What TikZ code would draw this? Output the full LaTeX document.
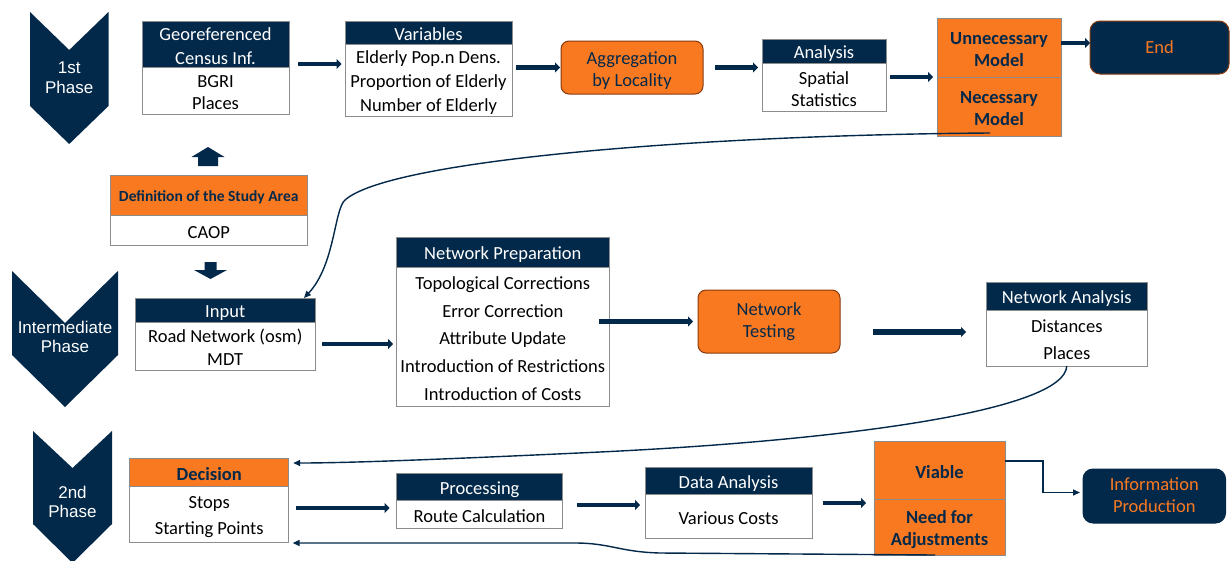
\documentclass[tikz,border=0pt]{standalone}
\usepackage{fontspec}
\setmainfont{Carlito}
\newfontfamily\phasefont{Liberation Sans}
\usetikzlibrary{arrows.meta}
\definecolor{navy}{RGB}{3,41,74}
\definecolor{orng}{RGB}{249,121,33}
\definecolor{brwn}{RGB}{135,58,14}
\definecolor{edge}{RGB}{140,140,140}
% invisible strut that fixes the line boxes of the box texts
\newcommand\lowst{\rule[-0.1em]{0pt}{1.1em}}

\begin{document}
\begin{tikzpicture}[x=1pt,y=-1pt,
  every node/.style={inner sep=0pt, outer sep=0pt},
  part/.style={draw=edge, line width=0.75pt, anchor=north west, align=center,
    font=\fontsize{18.5}{24}\selectfont},
  hdr/.style={part, fill=navy, text=white},
  cell/.style={part, fill=white, text=black},
  ocell/.style={part, fill=orng, text=navy, font=\fontsize{18.5}{22}\selectfont\bfseries},
  rbox/.style={draw=brwn, line width=1pt, rounded corners=8pt, anchor=north west,
    align=center, font=\fontsize{18.5}{22}\selectfont},
  phase/.style={text=white, align=center, font=\phasefont\fontsize{17}{19.5}\selectfont},
  flow/.style={draw=navy, line width=4.5pt, -{Triangle[length=5pt,width=10pt]}},
  link/.style={draw=navy, line width=1.4pt, -{Triangle[length=7pt,width=6pt]}}
]
\fill[white] (0,0) rectangle (1230,560);
\useasboundingbox (0,0) rectangle (1230,560);

% ---------- phase chevrons ----------
\fill[navy] (30,12) -- (69.2,50) -- (108.5,12) -- (108.5,106) -- (69.2,144) -- (30,106) -- cycle;
\node[phase] (ph1) at (69.2,77.5) {1st\\Phase};
\fill[navy] (12,271) -- (65,323) -- (118,271) -- (118,355) -- (65,407) -- (12,355) -- cycle;
\node[phase] (ph2) at (65,337) {Intermediate\\Phase};
\fill[navy] (33,431) -- (72.5,468) -- (112,431) -- (112,524) -- (72.5,563) -- (33,524) -- cycle;
\node[phase] (ph3) at (72.5,502) {2nd\\Phase};

% ---------- first phase ----------
\node[hdr, minimum width=147pt, minimum height=46pt] (geoH) at (142,21) {\lowst Georeferenced\\Census Inf.\lowst};
\node[cell, minimum width=147pt, minimum height=47pt, font=\fontsize{18.5}{22}\selectfont] (geoB) at (142,67) {\lowst BGRI\\Places\lowst};

\node[hdr, minimum width=167pt, minimum height=23pt] (varH) at (345,21) {\lowst Variables};
\node[cell, minimum width=167pt, minimum height=72pt] (varB) at (345,44)
  {\lowst Elderly Pop.n Dens.\\Proportion of Elderly\\Number of Elderly\lowst};

\node[rbox, fill=orng, text=navy, minimum width=142pt, minimum height=53pt] (agg) at (561,41) {\lowst Aggregation\\by Locality\lowst};

\node[hdr, minimum width=124pt, minimum height=24pt] (anaH) at (762,39) {\lowst Analysis};
\node[cell, minimum width=124pt, minimum height=48pt, font=\fontsize{18.5}{22}\selectfont] (anaB) at (762,63) {\lowst Spatial\\Statistics\lowst};

\node[ocell, minimum width=124pt, minimum height=59pt] (modelT) at (937,18) {\lowst Unnecessary\\Model\lowst};
\node[ocell, minimum width=124pt, minimum height=59pt] (modelB) at (937,77) {\lowst Necessary\\Model\lowst};

\node[rbox, fill=navy, text=orng, rounded corners=10pt, minimum width=139pt, minimum height=53pt] (end) at (1090,21) {End};

% study area definition with its block arrows
\fill[navy] (198,166) -- (198,157) -- (191.5,157) -- (208,147) -- (224.5,157) -- (218,157) -- (218,166) -- cycle;
\node[part, fill=orng, text=navy, font=\fontsize{15.5}{18}\selectfont\bfseries,
  minimum width=197.5pt, minimum height=40pt] (defH) at (110,175) {\lowst Definition of the Study Area};
\node[cell, minimum width=197.5pt, minimum height=30pt] (defB) at (110,215) {\lowst CAOP};
\fill[navy] (204.5,262) -- (216.5,262) -- (216.5,270) -- (227,270) -- (210.5,279) -- (194,270) -- (204.5,270) -- cycle;

% ---------- intermediate phase ----------
\node[hdr, minimum width=179.5pt, minimum height=24pt] (inpH) at (135.5,298) {\lowst Input};
\node[cell, minimum width=179.5pt, minimum height=48pt, font=\fontsize{18.5}{23}\selectfont] (inpB) at (135.5,322) {\lowst Road Network (osm)\\MDT\lowst};

\node[hdr, minimum width=212.4pt, minimum height=30pt] (npH) at (396.6,237) {\lowst Network Preparation};
\node[cell, minimum width=212.4pt, minimum height=139pt, font=\fontsize{18.5}{27.75}\selectfont] (npB) at (396.6,267)
  {\lowst Topological Corrections\\Error Correction\\Attribute Update\\Introduction of Restrictions\\Introduction of Costs\lowst};

\node[rbox, fill=orng, text=navy, minimum width=142pt, minimum height=63pt] (tst) at (698,290) {Network\\Testing\lowst};

\node[hdr, minimum width=160.5pt, minimum height=28pt] (naH) at (986.5,282) {\lowst Network Analysis};
\node[cell, minimum width=160.5pt, minimum height=56pt, font=\fontsize{18.5}{27}\selectfont] (naB) at (986.5,310) {\lowst Distances\\Places\lowst};

% ---------- second phase ----------
\node[part, fill=orng, text=navy, font=\fontsize{18.5}{22}\selectfont\bfseries,
  minimum width=159pt, minimum height=28pt] (decH) at (129.7,458) {\lowst Decision};
\node[cell, minimum width=159pt, minimum height=56pt, font=\fontsize{18.5}{26}\selectfont] (decB) at (129.7,486) {\lowst Stops\\Starting Points\lowst};

\node[hdr, minimum width=166pt, minimum height=27pt] (procH) at (396.6,473) {\lowst Processing};
\node[cell, minimum width=166pt, minimum height=28pt] (procB) at (396.6,500) {\lowst Route Calculation};

\node[hdr, minimum width=167pt, minimum height=27pt] (daH) at (645,467) {\lowst Data Analysis};
\node[cell, minimum width=167pt, minimum height=44pt] (daB) at (645,494) {\lowst Various Costs};

\node[ocell, minimum width=131pt, minimum height=58pt] (viaT) at (874,441) {\lowst Viable};
\node[ocell, minimum width=131pt, minimum height=56pt] (viaB) at (874,499) {\lowst Need for\\Adjustments\lowst};

\node[rbox, draw=navy, fill=navy, text=orng, rounded corners=10pt, minimum width=142.5pt, minimum height=54pt] (info) at (1083,469) {Information\\Production\lowst};

% ---------- straight flow arrows ----------
\draw[flow] ([xshift=9pt,yshift=3pt]geoH.south east) -- ([xshift=-3.5pt,yshift=3pt]varH.south west |- geoH.south east);
\draw[flow] ([xshift=3.5pt]varB.east |- agg.west) -- ([xshift=-1pt]agg.west);
\draw[flow] ([xshift=12pt]agg.east) -- ([xshift=-4pt]anaB.west |- agg.east);
\draw[flow] ([xshift=4pt]anaB.east |- modelT.south) -- ([xshift=-4pt]modelT.south west);
\draw[flow] ([yshift=4.5pt]modelT.east |- end.west) -- ([yshift=4.5pt]end.west);

\draw[flow] ([xshift=7pt,yshift=2pt]inpB.east) -- ([xshift=-3.5pt,yshift=2pt]npB.west |- inpB.east);
\draw[flow] ([xshift=-10pt]npB.east |- tst.west) -- ([xshift=-5pt]tst.west);
\draw[flow, line width=5.5pt] ([xshift=33pt,yshift=-10.5pt]tst.east) -- ([xshift=-20.5pt,yshift=-10.5pt]naB.west |- tst.east);

\draw[flow] ([xshift=7pt,yshift=6pt]decB.east) -- ([xshift=-7pt,yshift=6pt]procB.west);
\draw[flow] ([xshift=14pt,yshift=9pt]procB.east) -- ([xshift=-5pt,yshift=11pt]daB.west);
\draw[flow] ([xshift=11pt,yshift=13pt]daB.east) -- ([xshift=-8pt,yshift=13pt]viaB.west |- daB.east);

% ---------- curved and elbow links ----------
\draw[link] ([xshift=-9pt,yshift=3pt]modelB.south)
  .. controls (700,135) and (390,160) .. (345,200)
  .. controls (334,210) and (335,265) .. ([xshift=-11pt]inpH.north east);
\draw[link] (naB.south)
  .. controls (1065,410) and (850,440) .. (600,452)
  .. controls (450,459) and (350,463) .. ([xshift=4.5pt,yshift=-5pt]decH.north east);
\draw[link] ([xshift=-4.5pt]viaB.south) -- (660,553)
  .. controls (620,552) and (610,543) .. (575,543) -- ([xshift=4pt,yshift=-1pt]decB.south east);
\draw[link] ([yshift=9pt]viaT.east) -- ++(38,0) |- ([xshift=-3pt,yshift=3.5pt]info.west);
\end{tikzpicture}
\end{document}
